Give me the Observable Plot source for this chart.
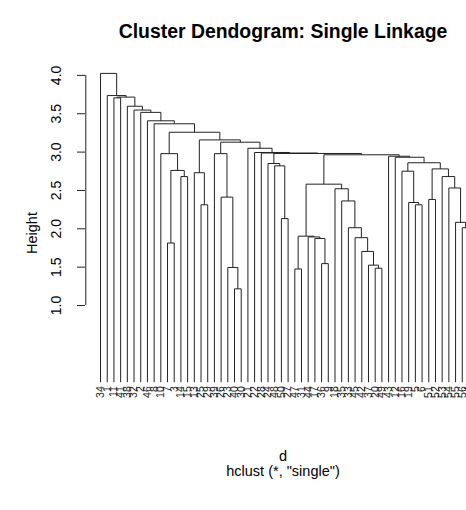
<!DOCTYPE html>
<html><head><meta charset="utf-8">
<script src="https://cdn.jsdelivr.net/npm/d3@7"></script>
<script src="https://cdn.jsdelivr.net/npm/@observablehq/plot@0.6"></script>
<style>
html,body{margin:0;padding:0;background:#fff;overflow:hidden;}
#wrap{position:relative;width:466px;height:510px;font-family:"Liberation Sans",Arial,sans-serif;color:#000;}
#chart{position:absolute;left:0;top:0;}
.t{position:absolute;white-space:nowrap;text-align:center;line-height:1;}
#title{left:83px;width:400px;top:22px;font-weight:bold;font-size:19.4px;}
#ylab{left:32px;top:233px;font-size:14.5px;transform:translate(-50%,-50%) rotate(-90deg);}
#xlab{left:183px;width:200px;top:449px;font-size:14.5px;}
#sub{left:133px;width:300px;top:464px;font-size:14.5px;}
</style></head>
<body><div id="wrap">
<div id="chart"></div>
<div class="t" id="title">Cluster Dendogram: Single Linkage</div>
<div class="t" id="ylab">Height</div>
<div class="t" id="xlab">d</div>
<div class="t" id="sub">hclust (*, "single")</div>
</div>
<script>
// leaf labels in display order (left to right)
const leafLabels = [34,1,11,41,38,32,2,46,8,10,7,3,14,15,13,25,29,39,26,23,40,30,21,22,28,24,48,50,27,47,31,44,17,36,9,18,35,33,45,42,37,20,49,43,12,16,19,5,6,51,52,53,54,55,56,4];
// merges: negative = leaf at display position (1-based), positive = earlier merge row (1-based)
const mergeLeft  = [-21,-30,-42,-20,-41,-34,-40,-11,-33,-39,-32, 2,-55,-38,-54,-28,-16,-48,-47,-37,-50,-19,-53,-36,12,-13,-52,-15,-46, 8,21,-27,-26,29,-45,-44,25,-10,-18,33,-25,-24,-23,39,28,38,-9,-8,-7,-6,-5,-3,52,-2,-1];
const mergeRight = [-22,-31,-43,  1,  3,-35,  5,-12,  6, 7,  9,11,-56, 10, 13,-29,-17,-49, 18, 14,-51,  4, 15, 20,24,-14, 23, 17, 19,26,27, 16, 32,31, 34, 35,36, 30, 22,37, 40, 41, 42,43,44,45,46,47,48,49,50,-4,51,53,54];
const mergeHeight = [1.217,1.476,1.486,1.496,1.526,1.546,1.705,1.815,1.874,1.884,1.894,1.904,2.014,2.014,2.084,2.133,2.313,2.313,2.343,2.363,2.383,2.413,2.532,2.522,2.582,2.681,2.681,2.731,2.751,2.761,2.781,2.821,2.851,2.861,2.933,2.946,2.965,2.980,2.980,2.982,2.988,2.995,3.050,3.129,3.159,3.259,3.369,3.408,3.518,3.548,3.598,3.707,3.717,3.737,4.026];
const yTicks = [1.0,1.5,2.0,2.5,3.0,3.5,4.0];

const n = leafLabels.length;
const nodes = [];
const ref = r => r < 0 ? {x: -r - 1, h: 0} : nodes[r - 1];
const segs = [];
mergeLeft.forEach((l, i) => {
  const a = ref(l), b = ref(mergeRight[i]), h = mergeHeight[i];
  segs.push({x1: a.x, y1: h, x2: b.x, y2: h});
  segs.push({x1: a.x, y1: h, x2: a.x, y2: a.h});
  segs.push({x1: b.x, y1: h, x2: b.x, y2: b.h});
  nodes.push({x: (a.x + b.x) / 2, h});
});
const leaves = leafLabels.map((lab, k) => ({k, lab: String(lab)}));
const ext = 0.04 * (n - 1); // R's 4% axis extension
const axisPos = -ext;

const chart = Plot.plot({
  width: 466, height: 510,
  marginLeft: 85, marginRight: 0, marginTop: 0, marginBottom: 0,
  style: {fontFamily: '"Liberation Sans", Arial, sans-serif', background: "#fff", overflow: "hidden"},
  x: {domain: [-ext, n - 1 + ext], range: [85.3, 483.2], axis: null},
  y: {domain: [0, 4], range: [381.7, 74.9], axis: null},
  marks: [
    Plot.link(segs, {x1: "x1", y1: "y1", x2: "x2", y2: "y2", stroke: "#222", strokeWidth: 1}),
    Plot.ruleX([axisPos], {y1: yTicks[0], y2: yTicks[yTicks.length - 1], stroke: "#222"}),
    Plot.axisY(yTicks, {anchor: "left", tickSize: 8, tickPadding: 17, tickRotate: -90, tickFormat: d => d.toFixed(1), fontSize: 14, label: null, stroke: "#222"}),
    Plot.text(leaves, {x: "k", y: 0, text: "lab", rotate: -90, textAnchor: "end", lineAnchor: "middle", dy: 4, fontSize: 10.5, fill: "#222"})
  ]
});
document.getElementById("chart").appendChild(chart);
</script>
</body></html>
